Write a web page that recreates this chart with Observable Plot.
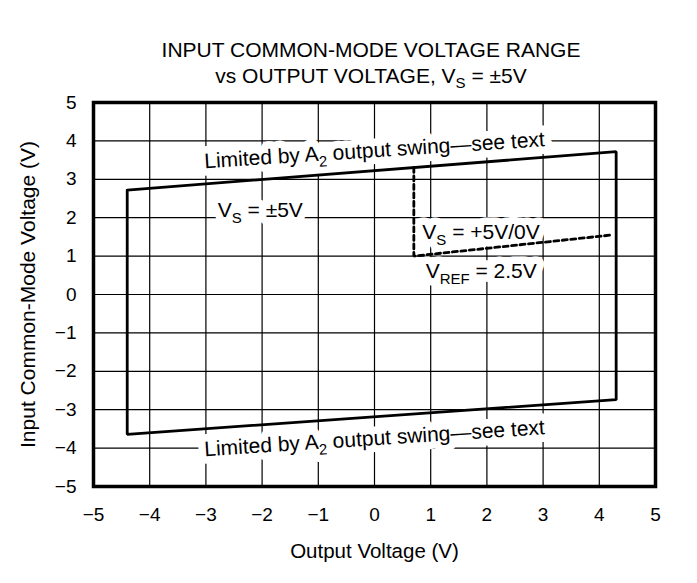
<!DOCTYPE html>
<html><head><meta charset="utf-8">
<script src="https://cdn.jsdelivr.net/npm/d3@7"></script>
<script src="https://cdn.jsdelivr.net/npm/@observablehq/plot@0.6"></script>
<style>
body{margin:0;background:#fff;font-family:"Liberation Sans",Arial,sans-serif;}
#title{box-sizing:border-box;height:89px;margin-left:45px;width:652px;text-align:center;font-size:21px;line-height:26px;padding-top:37px;color:#000;}
#title .sub{font-size:15px;position:relative;top:5px;}
</style></head><body>
<div id="title">INPUT COMMON-MODE VOLTAGE RANGE<br>vs OUTPUT VOLTAGE, V<span class="sub">S</span> = ±5V</div>
<div id="chart"></div>
<script>
const xTicks = [-5, -4, -3, -2, -1, 0, 1, 2, 3, 4, 5];
const yTicks = [-5, -4, -3, -2, -1, 0, 1, 2, 3, 4, 5];
// V_S = ±5V region (solid parallelogram)
const solidX = [-4.4, 4.3, 4.3, -4.4, -4.4];
const solidY = [2.72, 3.72, -2.74, -3.64, 2.72];
// V_S = +5V/0V region (dashed)
const dashX = [0.7, 0.7, 4.22];
const dashY = [3.31, 1.0, 1.55];
// rotated annotations
const limText = ["Limited by A{2} output swing—see text", "Limited by A{2} output swing—see text"];
const limX = [0, 0];
const limY = [3.75, -3.75];
// other annotations
const noteText = ["V{S} = ±5V", "V{S} = +5V/0V", "V{REF} = 2.5V"];
const noteX = [-2.79, 0.85, 0.91];
const noteY = [2.03, 1.44, 0.44];

const solid = solidX.map((x, i) => ({x, y: solidY[i]}));
const dashed = dashX.map((x, i) => ({x, y: dashY[i]}));
const lims = limText.map((t, i) => ({t, x: limX[i], y: limY[i]}));
const notes = noteText.map((t, i) => ({t, x: noteX[i], y: noteY[i]}));

const limOpts = {x: "x", y: "y", text: "t", rotate: -3.7, textAnchor: "middle", lineAnchor: "middle", fontSize: 21};
const noteOpts = {x: "x", y: "y", text: "t", textAnchor: "start", lineAnchor: "bottom", fontSize: 21};

const plot = Plot.plot({
  width: 697,
  height: 494,
  marginTop: 13,
  marginBottom: 97,
  marginLeft: 93,
  marginRight: 42,
  style: {fontFamily: "'Liberation Sans', Arial, sans-serif", fontSize: "19px", color: "#000", background: "#fff"},
  x: {domain: [-5, 5]},
  y: {domain: [-5, 5]},
  marks: [
    Plot.ruleX(xTicks, {stroke: "#000", strokeWidth: 1.2}),
    Plot.ruleY(yTicks, {stroke: "#000", strokeWidth: 1.2}),
    Plot.axisX(xTicks, {tickSize: 0, tickPadding: 21, fontSize: 19, label: null}),
    Plot.axisY(yTicks, {tickSize: 0, tickPadding: 17, fontSize: 19, label: null}),
    // white backgrounds behind annotations
    Plot.text(lims, {...limOpts, fill: "#fff", stroke: "#fff", strokeWidth: 15, strokeLinejoin: "round"}),
    Plot.text(notes, {...noteOpts, fill: "#fff", stroke: "#fff", strokeWidth: 15, strokeLinejoin: "round"}),
    Plot.text(lims, {...limOpts, fill: "#000"}),
    Plot.text(notes, {...noteOpts, fill: "#000"}),
    Plot.line(solid, {x: "x", y: "y", stroke: "#000", strokeWidth: 2.8, strokeLinejoin: "miter"}),
    Plot.line(dashed, {x: "x", y: "y", stroke: "#000", strokeWidth: 2.8, strokeDasharray: "5,3.5", strokeLinejoin: "miter"}),
    Plot.frame({stroke: "#000", strokeWidth: 3.5}),
    Plot.text(["Output Voltage (V)"], {frameAnchor: "bottom", dy: 71, lineAnchor: "bottom", fontSize: 20.5, fill: "#000"}),
    Plot.text(["Input Common-Mode Voltage (V)"], {frameAnchor: "left", dx: -65, rotate: -90, textAnchor: "middle", lineAnchor: "middle", fontSize: 21, fill: "#000"})
  ]
});

// convert {x} markers into subscript tspans
d3.select(plot).selectAll("text").each(function() {
  const s = this.textContent;
  if (!s.includes("{")) return;
  const el = d3.select(this);
  el.text(null);
  const parts = s.split(/(\{[^}]*\})/).filter(p => p.length);
  let shifted = false;
  parts.forEach(p => {
    if (p.startsWith("{")) {
      el.append("tspan").attr("font-size", 15).attr("dy", 6).text(p.slice(1, -1));
      shifted = true;
    } else {
      const ts = el.append("tspan").text(p);
      if (shifted) { ts.attr("dy", -6); shifted = false; }
    }
  });
});

document.getElementById("chart").appendChild(plot);
</script>
</body></html>
